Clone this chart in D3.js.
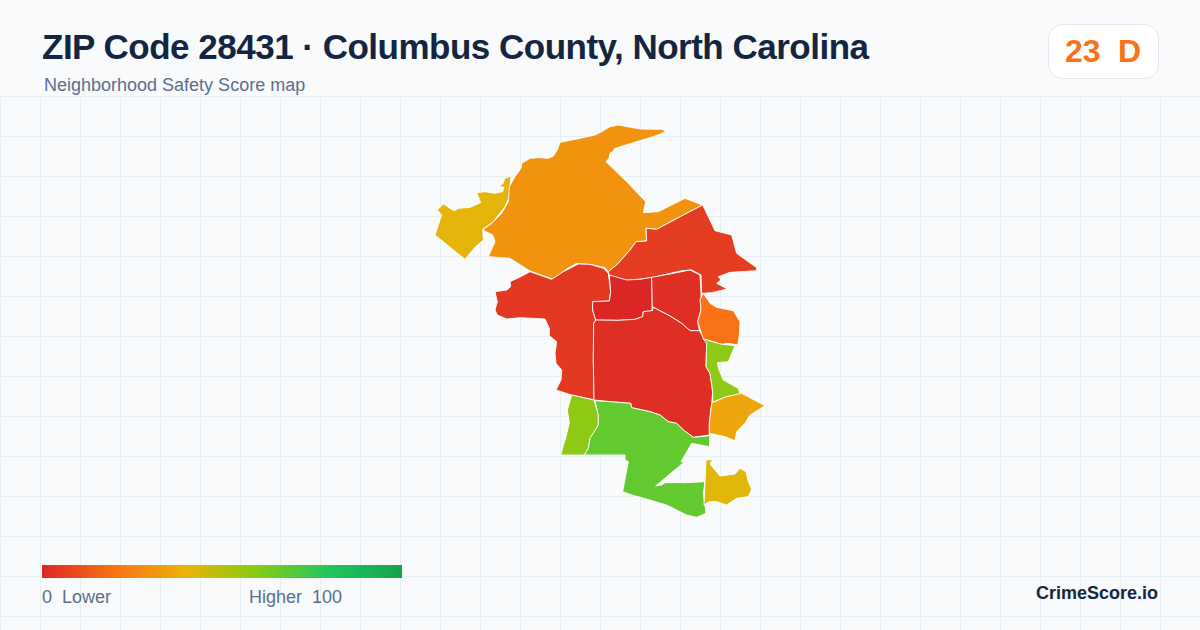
<!DOCTYPE html>
<html>
<head>
<meta charset="utf-8">
<script src="https://cdn.jsdelivr.net/npm/d3@7"></script>
<style>
  html, body { margin: 0; padding: 0; background: #f8fafc; }
  svg { display: block; }
  text { font-family: "Liberation Sans", Arial, sans-serif; white-space: pre; }
</style>
</head>
<body>
<div id="chart"></div>
<script>
// zip areas: safety score and outline, outlines are in map units (origin at the map's top left)
var names = ["nw", "north", "northeast", "west", "center", "centerEast", "centerSouth", "east", "eastNarrow", "southeast", "southwest", "south", "southIsland"];

var scores = [41, 30, 6, 5, 0, 2, 2, 20, 58, 36, 58, 67, 42];

var outlines = [
  // nw
  [[273,183],[255,190],[248,207],[235,213],[252,217],[248,230],[225,235],[195,230],[170,233],[182,263],[150,277],[118,280],[102,287],[70,267],[52,285],[65,300],[45,360],[135,433],[165,397],[190,375],[188,343],[220,320],[255,275],[270,240],[270,210]],
  // north
  [[188,345],[215,325],[245,295],[265,260],[268,215],[285,185],[303,160],[305,145],[330,130],[355,128],[385,130],[400,123],[412,105],[420,82],[470,72],[525,60],[545,50],[570,35],[595,30],[660,42],[725,43],[738,50],[700,65],[640,83],[585,100],[580,105],[598,113],[582,107],[570,115],[567,130],[558,140],[620,200],[677,260],[670,293],[715,290],[795,250],[848,270],[790,300],[710,343],[678,340],[680,378],[648,380],[630,405],[595,445],[565,470],[555,458],[520,450],[470,445],[440,462],[400,493],[330,468],[270,430],[205,425],[225,380],[218,360]],
  // northeast
  [[848,270],[885,347],[935,360],[950,415],[1010,458],[1010,467],[930,472],[895,485],[903,495],[890,505],[922,522],[875,533],[845,535],[843,480],[815,465],[785,467],[695,488],[640,495],[610,495],[568,485],[565,470],[595,445],[630,405],[648,380],[680,378],[678,340],[710,343],[790,300]],
  // west
  [[395,493],[430,470],[475,447],[510,448],[550,460],[565,475],[572,530],[568,558],[518,560],[518,585],[527,615],[521,625],[520,735],[522,855],[455,840],[408,825],[423,795],[425,765],[408,745],[405,715],[410,680],[388,662],[388,640],[375,612],[300,608],[260,612],[232,600],[225,585],[232,560],[225,530],[260,525],[272,515],[270,500],[302,485],[330,470]],
  // center
  [[568,480],[620,495],[660,493],[695,487],[697,587],[670,590],[668,605],[645,613],[595,616],[527,615],[518,585],[518,560],[568,558],[572,530]],
  // centerEast
  [[695,487],[750,477],[810,465],[840,480],[843,535],[843,585],[833,620],[838,647],[810,647],[785,625],[750,603],[700,577],[697,587]],
  // centerSouth
  [[527,615],[595,616],[645,613],[668,605],[670,590],[697,587],[700,577],[750,603],[785,625],[810,647],[838,647],[860,685],[858,755],[870,775],[878,830],[875,865],[868,925],[868,960],[820,967],[790,945],[770,925],[745,920],[720,900],[690,890],[635,878],[632,865],[570,860],[522,855],[520,735],[521,625]],
  // east
  [[840,553],[850,535],[870,565],[890,577],[940,587],[960,620],[958,660],[953,690],[925,685],[905,688],[850,672],[833,620],[843,585]],
  // eastNarrow
  [[850,672],[905,688],[945,692],[925,740],[892,743],[895,760],[910,795],[955,820],[960,838],[920,845],[878,862],[878,830],[870,775],[858,755],[860,685]],
  // southeast
  [[878,862],[920,845],[965,835],[1035,872],[990,900],[975,925],[950,950],[945,977],[915,965],[868,955],[868,925],[875,865]],
  // southwest
  [[455,840],[522,855],[535,900],[535,930],[510,970],[505,1000],[493,1020],[422,1020],[438,965],[448,925],[442,885]],
  // south
  [[525,857],[570,860],[632,865],[635,878],[690,890],[720,900],[745,920],[770,925],[790,945],[820,967],[870,962],[868,995],[815,985],[792,1025],[783,1040],[792,1042],[740,1085],[707,1113],[725,1110],[735,1103],[800,1103],[855,1100],[850,1135],[858,1195],[830,1207],[800,1200],[740,1170],[655,1145],[645,1143],[608,1130],[625,1040],[615,1035],[615,1020],[493,1020],[505,1000],[510,970],[535,930],[535,900]],
  // southIsland
  [[858,1035],[878,1033],[870,1047],[900,1083],[945,1077],[960,1060],[978,1070],[985,1100],[995,1123],[985,1145],[950,1150],[920,1170],[890,1160],[868,1160],[852,1170],[855,1105]]
];

var legendStops = [0, 20, 40, 60, 80, 100];
var legendColors = ["#dc2626", "#f97316", "#eab308", "#84cc16", "#22c55e", "#16a34a"];

var title = "ZIP Code 28431 · Columbus County, North Carolina";
var subtitle = "Neighborhood Safety Score map";
var zipScore = "23";
var zipGrade = "D";
var lowLabel = "0  Lower";
var highLabel = "Higher  100";
var brand = "CrimeScore.io";

var width = 1200, height = 630;

var svg = d3.select("#chart").append("svg")
    .attr("width", width)
    .attr("height", height);

svg.append("rect")
    .attr("width", width)
    .attr("height", height)
    .attr("fill", "#f8fafc");

// background grid, starts under the header
var grid = svg.append("g")
    .attr("stroke", "#e7eff3")
    .attr("stroke-width", 1);

grid.selectAll("line.v")
    .data(d3.range(0.5, width, 40))
    .enter()
    .append("line")
    .attr("class", "v")
    .attr("x1", function(d) { return d; })
    .attr("x2", function(d) { return d; })
    .attr("y1", 96)
    .attr("y2", height);

grid.selectAll("line.h")
    .data(d3.range(96.5, height, 40))
    .enter()
    .append("line")
    .attr("class", "h")
    .attr("x1", 0)
    .attr("x2", width)
    .attr("y1", function(d) { return d; })
    .attr("y2", function(d) { return d; });

// header
svg.append("text")
    .attr("x", 42)
    .attr("y", 59)
    .attr("font-size", 35)
    .attr("letter-spacing", -0.5)
    .attr("font-weight", 700)
    .attr("fill", "#14263f")
    .text(title);

svg.append("text")
    .attr("x", 44)
    .attr("y", 91)
    .attr("font-size", 18)
    .attr("fill", "#5b6f8c")
    .text(subtitle);

// score badge
svg.append("rect")
    .attr("x", 1048.5)
    .attr("y", 24.5)
    .attr("width", 110)
    .attr("height", 54)
    .attr("rx", 14)
    .attr("fill", "#ffffff")
    .attr("stroke", "#e2e8f0");

svg.append("text")
    .attr("x", 1065)
    .attr("y", 62)
    .attr("font-size", 32)
    .attr("font-weight", 700)
    .attr("fill", "#f97316")
    .text(zipScore);

svg.append("text")
    .attr("x", 1118)
    .attr("y", 62)
    .attr("font-size", 32)
    .attr("font-weight", 700)
    .attr("fill", "#f97316")
    .text(zipGrade);

// map
var color = d3.scaleLinear()
    .domain(legendStops)
    .range(legendColors);

var xMap = d3.scaleLinear().domain([0, 1080]).range([420, 780]);
var yMap = d3.scaleLinear().domain([0, 1260]).range([115, 535]);

var line = d3.line()
    .x(function(d) { return xMap(d[0]); })
    .y(function(d) { return yMap(d[1]); })
    .curve(d3.curveLinearClosed);

svg.append("g").selectAll("path")
    .data(names)
    .enter()
    .append("path")
    .attr("d", function(d, i) { return line(outlines[i]); })
    .attr("fill", function(d, i) { return color(scores[i]); })
    .attr("stroke", "#ffffff")
    .attr("stroke-width", 0.9)
    .attr("stroke-linejoin", "round");

// legend
var legendX = d3.scaleLinear().domain([0, 100]).range([42, 402]);

var gradient = svg.append("defs").append("linearGradient")
    .attr("id", "legend-gradient");

gradient.selectAll("stop")
    .data(legendStops)
    .enter()
    .append("stop")
    .attr("offset", function(d) { return d + "%"; })
    .attr("stop-color", function(d, i) { return legendColors[i]; });

svg.append("rect")
    .attr("x", legendX(0))
    .attr("y", 565)
    .attr("width", legendX(100) - legendX(0))
    .attr("height", 13)
    .attr("fill", "url(#legend-gradient)");

svg.append("text")
    .attr("x", 42)
    .attr("y", 603)
    .attr("font-size", 18)
    .attr("fill", "#5b6f8c")
    .text(lowLabel);

svg.append("text")
    .attr("x", 249)
    .attr("y", 603)
    .attr("font-size", 18)
    .attr("fill", "#5b6f8c")
    .text(highLabel);

svg.append("text")
    .attr("x", 1158)
    .attr("y", 599)
    .attr("text-anchor", "end")
    .attr("font-size", 18)
    .attr("font-weight", 700)
    .attr("fill", "#14263f")
    .text(brand);
</script>
</body>
</html>
